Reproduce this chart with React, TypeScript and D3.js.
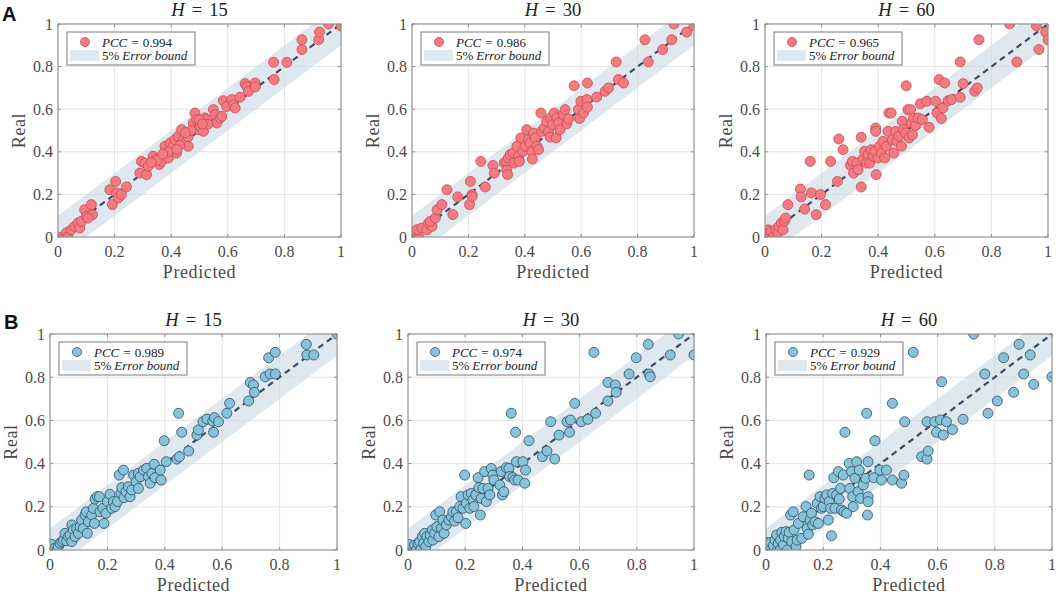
import React from 'react';
import * as d3 from 'd3';

const tickValues = [0, 0.2, 0.4, 0.6, 0.8, 1];
const tickLabels = ['0', '0.2', '0.4', '0.6', '0.8', '1'];
const horizons = ['15', '30', '60'];
const pccA = ['0.994', '0.986', '0.965'];
const pccB = ['0.989', '0.974', '0.929'];
const errorBound = 0.1;

// [predicted, real]
const ptsA15: [number, number][] = [
  [0, 0], [0.03, 0.02], [0.035, 0], [0.047, 0.034], [0.059, 0.05], [0.071, 0.066], [0.077, 0.042], [0.083, 0.074],
  [0.094, 0.128], [0.1, 0.097], [0.118, 0.152], [0.122, 0.105], [0.106, 0.089], [0.183, 0.222], [0.192, 0.152],
  [0.204, 0.261], [0.207, 0.207], [0.213, 0.183], [0.224, 0.199], [0.242, 0.235], [0.289, 0.3], [0.295, 0.355],
  [0.307, 0.347], [0.313, 0.293], [0.319, 0.332], [0.336, 0.379], [0.348, 0.363], [0.358, 0.34], [0.366, 0.355],
  [0.378, 0.426], [0.384, 0.394], [0.39, 0.371], [0.396, 0.441], [0.401, 0.41], [0.407, 0.426], [0.413, 0.457],
  [0.419, 0.394], [0.425, 0.473], [0.437, 0.504], [0.443, 0.457], [0.449, 0.441], [0.46, 0.426], [0.478, 0.535],
  [0.484, 0.582], [0.49, 0.551], [0.496, 0.504], [0.502, 0.52], [0.514, 0.496], [0.519, 0.559], [0.525, 0.551],
  [0.549, 0.598], [0.555, 0.574], [0.561, 0.535], [0.573, 0.559], [0.579, 0.567], [0.584, 0.64], [0.596, 0.613],
  [0.614, 0.645], [0.62, 0.621], [0.626, 0.606], [0.643, 0.656], [0.661, 0.72], [0.667, 0.707], [0.673, 0.684],
  [0.697, 0.723], [0.697, 0.704], [0.762, 0.82], [0.764, 0.739], [0.809, 0.82], [0.862, 0.926], [0.862, 0.88],
  [0.921, 0.926], [0.924, 0.962], [0.956, 1], [1, 0.991], [0.39, 0.4], [0.43, 0.43], [0.46, 0.47], [0.47, 0.5],
  [0.5, 0.55], [0.53, 0.53], [0.35, 0.36], [0.33, 0.35], [0.42, 0.41], [0.45, 0.49], [0.37, 0.39], [0.51, 0.53],
];

const ptsA30: [number, number][] = [
  [0, 0.02], [0.006, 0], [0.024, 0], [0.018, 0.034], [0.035, 0.042], [0.053, 0.034], [0.059, 0.066], [0.071, 0.05],
  [0.065, 0.074], [0.083, 0.089], [0.089, 0.128], [0.106, 0.152], [0.124, 0.222], [0.145, 0.105], [0.162, 0.188],
  [0.207, 0.261], [0.204, 0.152], [0.213, 0.199], [0.213, 0.19], [0.244, 0.355], [0.26, 0.235], [0.287, 0.336],
  [0.292, 0.3], [0.327, 0.347], [0.334, 0.355], [0.336, 0.313], [0.339, 0.293], [0.342, 0.371], [0.348, 0.387],
  [0.358, 0.394], [0.362, 0.347], [0.372, 0.426], [0.378, 0.379], [0.381, 0.355], [0.386, 0.465], [0.393, 0.402],
  [0.401, 0.426], [0.407, 0.504], [0.413, 0.457], [0.419, 0.441], [0.425, 0.402], [0.427, 0.366], [0.431, 0.488],
  [0.437, 0.465], [0.443, 0.426], [0.449, 0.41], [0.457, 0.582], [0.46, 0.496], [0.469, 0.512], [0.478, 0.543],
  [0.484, 0.496], [0.49, 0.469], [0.492, 0.559], [0.499, 0.527], [0.504, 0.582], [0.511, 0.465], [0.514, 0.559],
  [0.519, 0.535], [0.525, 0.504], [0.537, 0.574], [0.543, 0.598], [0.549, 0.532], [0.555, 0.554], [0.575, 0.71],
  [0.59, 0.598], [0.594, 0.556], [0.599, 0.637], [0.608, 0.582], [0.62, 0.645], [0.622, 0.61], [0.622, 0.723],
  [0.655, 0.657], [0.685, 0.684], [0.697, 0.7], [0.724, 0.822], [0.732, 0.739], [0.75, 0.723], [0.826, 0.926],
  [0.838, 0.822], [0.889, 0.88], [0.921, 0.926], [0.929, 1], [0.974, 0.962], [1, 0.991],
];

const ptsA60: [number, number][] = [
  [0, 0.019], [0.005, 0], [0.011, 0.034], [0.022, 0.027], [0.031, 0], [0.038, 0.034], [0.046, 0.019], [0.049, 0.05],
  [0.058, 0.066], [0.064, 0.034], [0.069, 0.074], [0.073, 0.089], [0.081, 0.152], [0.125, 0.225], [0.128, 0.188],
  [0.14, 0.131], [0.16, 0.355], [0.164, 0.207], [0.181, 0.105], [0.196, 0.199], [0.214, 0.152], [0.232, 0.355],
  [0.256, 0.261], [0.261, 0.46], [0.276, 0.41], [0.302, 0.336], [0.309, 0.355], [0.313, 0.3], [0.325, 0.347],
  [0.329, 0.316], [0.34, 0.468], [0.34, 0.235], [0.346, 0.366], [0.352, 0.402], [0.358, 0.347], [0.364, 0.387],
  [0.37, 0.347], [0.376, 0.41], [0.382, 0.379], [0.388, 0.402], [0.391, 0.512], [0.391, 0.496], [0.393, 0.293],
  [0.399, 0.371], [0.405, 0.426], [0.411, 0.394], [0.417, 0.449], [0.423, 0.371], [0.429, 0.426], [0.435, 0.496],
  [0.438, 0.582], [0.446, 0.582], [0.45, 0.457], [0.455, 0.394], [0.462, 0.496], [0.466, 0.449], [0.473, 0.473],
  [0.482, 0.426], [0.485, 0.543], [0.49, 0.504], [0.497, 0.488], [0.499, 0.71], [0.505, 0.598], [0.509, 0.465],
  [0.514, 0.598], [0.517, 0.535], [0.521, 0.48], [0.525, 0.559], [0.532, 0.523], [0.541, 0.559], [0.549, 0.626],
  [0.556, 0.551], [0.572, 0.637], [0.58, 0.515], [0.603, 0.637], [0.608, 0.582], [0.615, 0.739], [0.623, 0.556],
  [0.629, 0.606], [0.635, 0.723], [0.647, 0.64], [0.659, 0.645], [0.69, 0.656], [0.69, 0.822], [0.7, 0.72],
  [0.741, 0.684], [0.75, 0.7], [0.756, 0.926], [0.865, 1], [0.89, 0.822], [0.959, 0.992], [0.968, 0.88],
  [0.992, 0.962], [1, 0.926],
];

const ptsB15: [number, number][] = [
  [0, 0], [0.006, 0.026], [0.017, 0.008], [0.023, 0], [0.029, 0.015], [0.035, 0.031], [0.041, 0.039], [0.047, 0.046],
  [0.052, 0.077], [0.058, 0.042], [0.064, 0.062], [0.07, 0.069], [0.076, 0.116], [0.076, 0.039], [0.081, 0.093],
  [0.087, 0.062], [0.093, 0.1], [0.099, 0.077], [0.105, 0.108], [0.11, 0.139], [0.116, 0.1], [0.122, 0.162],
  [0.126, 0.177], [0.13, 0.077], [0.134, 0.131], [0.145, 0.162], [0.151, 0.193], [0.155, 0.123], [0.157, 0.236],
  [0.165, 0.247], [0.172, 0.247], [0.174, 0.177], [0.184, 0.193], [0.188, 0.123], [0.195, 0.17], [0.2, 0.224],
  [0.209, 0.258], [0.215, 0.193], [0.221, 0.224], [0.227, 0.201], [0.235, 0.224], [0.241, 0.347], [0.247, 0.262],
  [0.25, 0.289], [0.256, 0.37], [0.258, 0.242], [0.265, 0.27], [0.273, 0.293], [0.279, 0.247], [0.285, 0.278],
  [0.291, 0.347], [0.3, 0.316], [0.308, 0.355], [0.308, 0.285], [0.314, 0.339], [0.326, 0.37], [0.337, 0.378],
  [0.343, 0.339], [0.349, 0.309], [0.355, 0.355], [0.363, 0.397], [0.366, 0.335], [0.384, 0.37], [0.387, 0.324],
  [0.398, 0.506], [0.405, 0.409], [0.442, 0.421], [0.448, 0.633], [0.451, 0.432], [0.459, 0.545], [0.483, 0.458],
  [0.512, 0.532], [0.517, 0.556], [0.533, 0.594], [0.547, 0.606], [0.567, 0.597], [0.57, 0.545], [0.573, 0.613],
  [0.587, 0.594], [0.616, 0.633], [0.626, 0.679], [0.692, 0.69], [0.698, 0.776], [0.709, 0.764], [0.712, 0.73],
  [0.75, 0.802], [0.762, 0.89], [0.767, 0.815], [0.785, 0.815], [0.785, 0.915], [0.893, 0.952], [0.895, 0.903],
  [0.919, 0.903], [1, 1],
];

const ptsB30: [number, number][] = [
  [0, 0], [0.003, 0.026], [0.023, 0.023], [0.029, 0], [0.035, 0.031], [0.041, 0.039], [0.044, 0], [0.05, 0.062],
  [0.055, 0.031], [0.058, 0.077], [0.062, 0.015], [0.066, 0.062], [0.073, 0.039], [0.078, 0.069], [0.085, 0.093],
  [0.087, 0.046], [0.093, 0.077], [0.097, 0.162], [0.101, 0.108], [0.108, 0.062], [0.111, 0.177], [0.117, 0.1],
  [0.122, 0.139], [0.126, 0.077], [0.134, 0.116], [0.143, 0.139], [0.152, 0.154], [0.157, 0.177], [0.163, 0.134],
  [0.169, 0.177], [0.175, 0.15], [0.181, 0.201], [0.186, 0.247], [0.192, 0.193], [0.198, 0.347], [0.202, 0.123],
  [0.204, 0.216], [0.21, 0.255], [0.216, 0.193], [0.221, 0.262], [0.227, 0.231], [0.23, 0.201], [0.237, 0.255],
  [0.245, 0.335], [0.248, 0.289], [0.253, 0.162], [0.256, 0.239], [0.262, 0.285], [0.268, 0.363], [0.274, 0.224],
  [0.28, 0.285], [0.286, 0.255], [0.291, 0.378], [0.297, 0.347], [0.3, 0.324], [0.321, 0.301], [0.326, 0.363],
  [0.33, 0.255], [0.335, 0.27], [0.344, 0.381], [0.353, 0.378], [0.355, 0.34], [0.361, 0.633], [0.367, 0.335],
  [0.373, 0.324], [0.376, 0.545], [0.379, 0.409], [0.385, 0.324], [0.402, 0.409], [0.408, 0.309], [0.411, 0.37],
  [0.423, 0.506], [0.47, 0.432], [0.486, 0.458], [0.499, 0.594], [0.513, 0.421], [0.528, 0.532], [0.556, 0.594],
  [0.565, 0.545], [0.568, 0.602], [0.583, 0.679], [0.606, 0.594], [0.629, 0.605], [0.656, 0.633], [0.65, 0.915],
  [0.699, 0.776], [0.699, 0.69], [0.725, 0.764], [0.728, 0.73], [0.773, 0.815], [0.798, 0.89], [0.84, 0.952],
  [0.843, 0.815], [0.847, 0.802], [0.917, 0.903], [0.946, 1], [1, 0.903],
];

const ptsB60: [number, number][] = [
  [0, 0.035], [0.008, 0.023], [0.016, 0.035], [0.026, 0.02], [0.031, 0.046], [0.037, 0.069], [0.04, 0], [0.043, 0.031],
  [0.049, 0], [0.051, 0.046], [0.055, 0.082], [0.061, 0.023], [0.064, 0.062], [0.07, 0.085], [0.075, 0], [0.078, 0.054],
  [0.081, 0.082], [0.086, 0.162], [0.09, 0.039], [0.095, 0.177], [0.098, 0.093], [0.105, 0.015], [0.109, 0.046],
  [0.113, 0.123], [0.125, 0.054], [0.13, 0.154], [0.14, 0.201], [0.144, 0.1], [0.148, 0.073], [0.151, 0.347],
  [0.154, 0.139], [0.159, 0.17], [0.163, 0.116], [0.171, 0.131], [0.179, 0.216], [0.183, 0.123], [0.189, 0.247],
  [0.194, 0.193], [0.2, 0.201], [0.206, 0.239], [0.212, 0.255], [0.218, 0.139], [0.221, 0.224], [0.226, 0.193],
  [0.229, 0.066], [0.233, 0.262], [0.237, 0.335], [0.241, 0.193], [0.247, 0.255], [0.253, 0.363], [0.256, 0.236],
  [0.261, 0.285], [0.264, 0.185], [0.27, 0.347], [0.272, 0.177], [0.276, 0.545], [0.282, 0.17], [0.291, 0.401],
  [0.293, 0.285], [0.299, 0.363], [0.303, 0.247], [0.305, 0.201], [0.311, 0.332], [0.317, 0.409], [0.322, 0.27],
  [0.326, 0.37], [0.331, 0.239], [0.34, 0.301], [0.349, 0.332], [0.352, 0.633], [0.355, 0.162], [0.357, 0.409],
  [0.357, 0.247], [0.357, 0.224], [0.377, 0.335], [0.381, 0.506], [0.398, 0.37], [0.404, 0.324], [0.421, 0.37],
  [0.442, 0.679], [0.442, 0.324], [0.474, 0.309], [0.482, 0.347], [0.485, 0.594], [0.515, 0.915], [0.544, 0.432],
  [0.563, 0.421], [0.567, 0.458], [0.563, 0.594], [0.59, 0.594], [0.596, 0.545], [0.61, 0.602], [0.614, 0.779],
  [0.62, 0.532], [0.631, 0.594], [0.652, 0.557], [0.689, 0.605], [0.726, 1], [0.765, 0.815], [0.776, 0.633],
  [0.809, 0.69], [0.831, 0.89], [0.866, 0.73], [0.885, 0.952], [0.901, 0.815], [0.924, 0.903], [0.936, 0.767],
  [1, 0.802],
];

const rowA = [ptsA15, ptsA30, ptsA60];
const rowB = [ptsB15, ptsB30, ptsB60];

const SERIF = '"Liberation Serif", "Times New Roman", serif';
const SANS = '"Liberation Sans", Arial, sans-serif';

type Box = { x0: number; x1: number; y0: number; y1: number };

const layoutA: Box[] = [
  { x0: 58, x1: 341, y0: 24, y1: 237 },
  { x0: 412, x1: 694, y0: 24, y1: 237 },
  { x0: 765, x1: 1048, y0: 24, y1: 237 },
];
const layoutB: Box[] = [
  { x0: 50, x1: 337, y0: 334, y1: 550 },
  { x0: 408, x1: 694, y0: 334, y1: 550 },
  { x0: 766, x1: 1052, y0: 334, y1: 550 },
];

const redStyle = { fill: '#f27a80', stroke: '#c94a52' };
const blueStyle = { fill: '#87c3d9', stroke: '#2d4b64' };

function Panel({ box, pts, style, h, pcc, id }: { box: Box; pts: [number, number][]; style: { fill: string; stroke: string }; h: string; pcc: string; id: string }) {
  const { x0, x1, y0, y1 } = box;
  const xs = d3.scaleLinear().domain([0, 1]).range([x0, x1]);
  const ys = d3.scaleLinear().domain([0, 1]).range([y1, y0]);
  const area = d3
    .area<number>()
    .x((d) => xs(d))
    .y0((d) => ys(Math.max(0, d - errorBound)))
    .y1((d) => ys(Math.min(1, d + errorBound)));
  const bandD = area([0, errorBound, 1 - errorBound, 1]) || '';
  const line = d3.line<number>().x((d) => xs(d)).y((d) => ys(d));
  const diagD = line([0, 1]) || '';
  const tl = 3;
  const cx = (x0 + x1) / 2;
  const cy = (y0 + y1) / 2;
  const lx = x0 + 9;
  const ly = y0 + 8;
  return (
    <g>
      <defs>
        <clipPath id={id}>
          <rect x={x0} y={y0} width={x1 - x0} height={y1 - y0} />
        </clipPath>
      </defs>
      <rect x={x0} y={y0} width={x1 - x0} height={y1 - y0} fill="#fff" />
      {tickValues.map((t, i) => (
        <g key={'g' + i}>
          <line x1={xs(t)} x2={xs(t)} y1={y0} y2={y1} stroke="#e3e3e3" strokeWidth={1} />
          <line x1={x0} x2={x1} y1={ys(t)} y2={ys(t)} stroke="#e3e3e3" strokeWidth={1} />
        </g>
      ))}
      <path d={bandD} fill="#c9d9e3" fillOpacity={0.6} />
      <path d={diagD} stroke="#3c4a6c" strokeWidth={2.2} strokeDasharray="6,4.5" fill="none" />
      <g clipPath={`url(#${id})`}>
        {pts.map((p, i) => (
          <circle key={i} cx={xs(p[0])} cy={ys(p[1])} r={5} fill={style.fill} stroke={style.stroke} strokeWidth={0.8} />
        ))}
      </g>
      <rect x={x0} y={y0} width={x1 - x0} height={y1 - y0} fill="none" stroke="#8a8a8a" strokeWidth={1} />
      {tickValues.map((t, i) => (
        <g key={'t' + i} stroke="#8a8a8a" strokeWidth={1}>
          <line x1={xs(t)} x2={xs(t)} y1={y1} y2={y1 - tl} />
          <line x1={xs(t)} x2={xs(t)} y1={y0} y2={y0 + tl} />
          <line x1={x0} x2={x0 + tl} y1={ys(t)} y2={ys(t)} />
          <line x1={x1} x2={x1 - tl} y1={ys(t)} y2={ys(t)} />
        </g>
      ))}
      {tickValues.map((t, i) => (
        <g key={'l' + i} fontFamily={SERIF} fontSize={16} fill="#4a4a4a">
          <text x={xs(t)} y={y1 + 20} textAnchor="middle">{tickLabels[i]}</text>
          <text x={x0 - 5} y={ys(t) + 5.5} textAnchor="end">{tickLabels[i]}</text>
        </g>
      ))}
      <text x={cx} y={y1 + 41} textAnchor="middle" fontFamily={SERIF} fontSize={18} letterSpacing={0.6} fill="#4a4a4a">Predicted</text>
      <text transform={`translate(${x0 - 33},${cy}) rotate(-90)`} textAnchor="middle" fontFamily={SERIF} fontSize={18} letterSpacing={0.6} fill="#4a4a4a">Real</text>
      <text x={cx} y={y0 - 8} textAnchor="middle" fontFamily={SERIF} fontSize={18.5} fill="#222">
        <tspan fontStyle="italic">H</tspan>
        <tspan dx={7}>=</tspan>
        <tspan dx={7}>{h}</tspan>
      </text>
      <rect x={lx} y={ly} width={128} height={33} fill="#fff" stroke="#7a7a7a" strokeWidth={1} />
      <circle cx={lx + 18} cy={ly + 10} r={4.5} fill={style.fill} stroke={style.stroke} strokeWidth={0.8} />
      <text x={lx + 35} y={ly + 14.5} fontFamily={SERIF} fontSize={13} fill="#222">
        <tspan fontStyle="italic">PCC</tspan>
        <tspan dx={4}>=</tspan>
        <tspan dx={4}>{pcc}</tspan>
      </text>
      <rect x={lx + 3} y={ly + 18} width={29} height={11} fill="#c9d9e3" fillOpacity={0.6} />
      <text x={lx + 35} y={ly + 27.5} fontFamily={SERIF} fontSize={13} fill="#222">
        <tspan>5%</tspan>
        <tspan dx={3} fontStyle="italic">Error bound</tspan>
      </text>
    </g>
  );
}

export default function App() {
  return (
    <svg width={1059} height={594} style={{ position: 'absolute', left: 0, top: 0, display: 'block', background: '#fff' }}>
      <rect x={0} y={0} width={1059} height={594} fill="#fff" />
      {layoutA.map((b, i) => (
        <Panel key={'a' + i} id={'ca' + i} box={b} pts={rowA[i]} style={redStyle} h={horizons[i]} pcc={pccA[i]} />
      ))}
      {layoutB.map((b, i) => (
        <Panel key={'b' + i} id={'cb' + i} box={b} pts={rowB[i]} style={blueStyle} h={horizons[i]} pcc={pccB[i]} />
      ))}
      <text x={2} y={21} fontFamily={SANS} fontWeight="bold" fontSize={20} fill="#111">A</text>
      <text x={4} y={329} fontFamily={SANS} fontWeight="bold" fontSize={20} fill="#111">B</text>
    </svg>
  );
}
